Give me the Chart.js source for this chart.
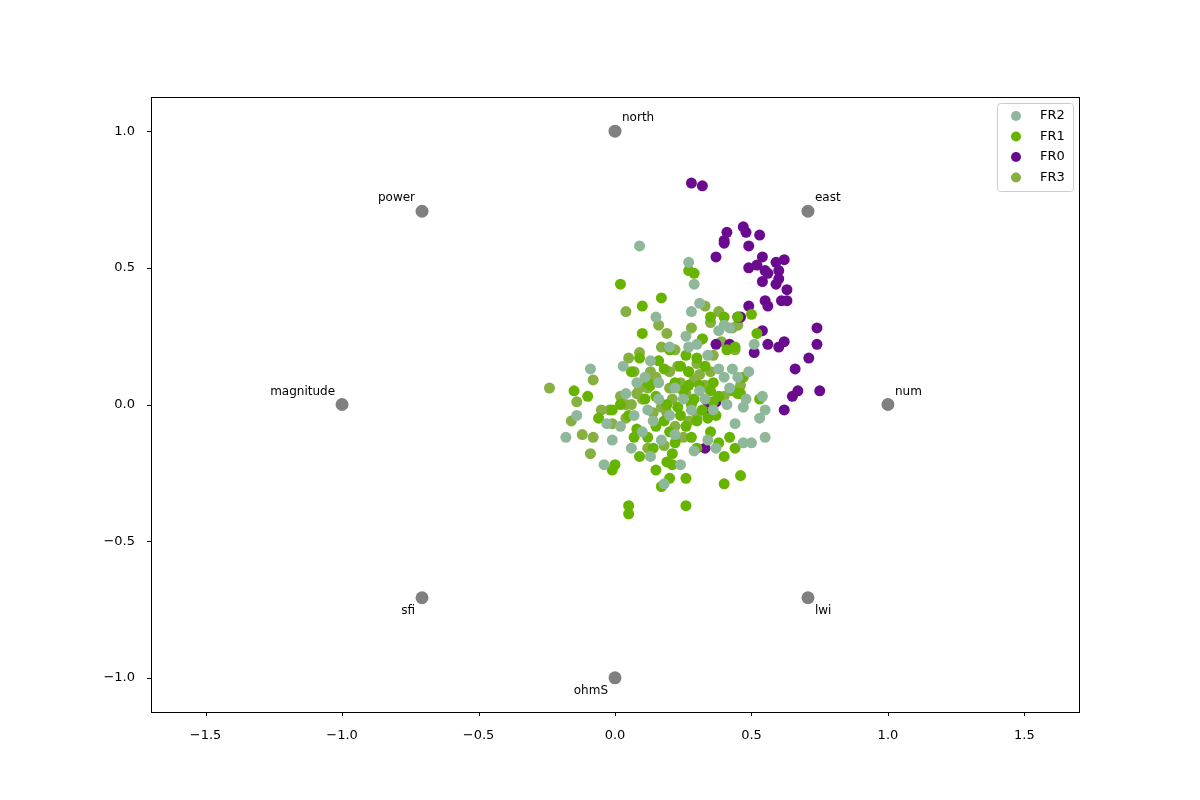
<!DOCTYPE html>
<html>
<head>
<meta charset="utf-8">
<script src="https://cdn.jsdelivr.net/npm/chart.js@4"></script>
<style>
  html, body { margin: 0; padding: 0; background: #fff; }
  #wrap { width: 1200px; height: 800px; }
</style>
</head>
<body>
<div id="wrap"><canvas id="c"></canvas></div>
<script>
const seriesNames = ['FR2', 'FR1', 'FR0', 'FR3'];
const seriesColors = ['#8fb89b', '#66b400', '#6a0a8e', '#86b040'];

const anchorNames = ['num', 'east', 'north', 'power', 'magnitude', 'sfi', 'ohmS', 'lwi'];
const anchorX = [1.0, 0.707, 0.0, -0.707, -1.0, -0.707, 0.0, 0.707];
const anchorY = [0.0, 0.707, 1.0, 0.707, 0.0, -0.707, -1.0, -0.707];

const xTicks = [-1.5, -1, -0.5, 0, 0.5, 1, 1.5];
const yTicks = [-1, -0.5, 0, 0.5, 1];

const fr2 = [[0.09,0.58],[0.27,0.52],[0.28,0.34],[0.29,0.44],[0.31,0.37],[0.15,0.32],[0.40,0.29],[0.38,0.27],[0.27,0.21],[0.30,0.22],[0.20,0.21],[0.13,0.16],[0.03,0.14],[-0.09,0.13],[-0.14,-0.04],[-0.18,-0.12],[-0.04,-0.22],[-0.01,-0.13],[0.02,-0.08],[0.07,-0.04],[0.12,-0.02],[0.16,0.02],[0.22,0.06],[0.24,-0.22],[0.18,-0.29],[0.29,-0.17],[0.34,-0.13],[0.37,-0.16],[0.44,-0.07],[0.47,-0.14],[0.50,-0.14],[0.55,-0.12],[0.53,-0.05],[0.55,-0.02],[0.54,0.03],[0.49,0.12],[0.47,-0.01],[0.42,0.06],[0.43,0.13],[0.40,0.10],[0.38,0.13],[0.36,-0.02],[0.31,0.05],[0.25,0.02],[0.20,-0.04],[0.14,-0.06],[0.10,-0.10],[0.08,0.08],[0.04,0.04],[-0.03,-0.07],[0.11,0.10],[0.16,0.08],[0.28,-0.02],[0.33,0.02],[0.45,0.10],[0.48,0.02],[0.41,0.00],[0.17,-0.13],[0.22,-0.11],[0.13,-0.19],[0.26,0.25],[0.42,0.28],[0.51,0.22],[0.06,-0.16],[0.34,0.18]];

const fr1 = [[0.02,0.44],[0.10,0.36],[0.17,0.39],[0.27,0.49],[0.29,0.48],[0.35,0.32],[0.40,0.32],[0.10,0.26],[0.20,0.20],[0.26,0.18],[0.30,0.17],[0.32,0.24],[0.45,0.32],[0.50,0.33],[0.52,0.26],[0.44,0.21],[0.09,0.17],[0.06,0.12],[0.13,0.07],[0.15,0.03],[0.18,0.13],[0.22,0.08],[0.25,0.05],[0.27,0.12],[0.29,0.02],[0.31,0.07],[0.35,0.05],[0.38,0.03],[0.43,0.05],[0.46,0.04],[0.47,0.10],[0.53,0.02],[-0.15,0.05],[-0.10,0.03],[-0.06,-0.05],[-0.01,-0.02],[0.02,0.00],[0.05,-0.04],[0.08,-0.09],[0.12,-0.12],[0.15,-0.08],[0.18,-0.06],[0.20,-0.10],[0.22,-0.14],[0.24,-0.04],[0.26,-0.08],[0.28,-0.12],[0.30,-0.06],[0.32,-0.02],[0.35,-0.10],[0.38,-0.14],[0.42,-0.12],[0.44,-0.16],[0.40,-0.19],[0.46,-0.26],[0.40,-0.29],[0.26,-0.27],[0.15,-0.24],[0.17,-0.30],[0.20,-0.27],[0.19,-0.21],[0.09,-0.19],[0.00,-0.22],[-0.01,-0.24],[0.05,-0.37],[0.05,-0.40],[0.26,-0.37],[0.21,-0.18],[0.07,-0.12],[0.12,0.08],[0.16,0.16],[0.24,0.14],[0.33,0.14],[0.36,0.08],[0.41,0.20],[0.45,0.04],[0.23,-0.01],[0.19,0.00],[0.28,0.00],[0.34,-0.05],[0.30,-0.16],[0.37,-0.04],[0.14,-0.16],[0.21,-0.22],[0.27,0.07],[0.11,0.02],[0.36,0.01]];

const fr0 = [[0.28,0.81],[0.32,0.80],[0.41,0.63],[0.47,0.65],[0.48,0.63],[0.53,0.62],[0.40,0.60],[0.40,0.59],[0.49,0.58],[0.37,0.54],[0.54,0.54],[0.62,0.53],[0.49,0.50],[0.52,0.51],[0.55,0.49],[0.56,0.48],[0.59,0.52],[0.60,0.49],[0.54,0.45],[0.60,0.46],[0.59,0.44],[0.63,0.42],[0.55,0.38],[0.56,0.36],[0.61,0.38],[0.63,0.38],[0.46,0.32],[0.49,0.36],[0.45,0.32],[0.54,0.27],[0.74,0.28],[0.74,0.22],[0.62,0.23],[0.56,0.22],[0.60,0.21],[0.51,0.19],[0.71,0.17],[0.66,0.13],[0.67,0.05],[0.65,0.03],[0.75,0.05],[0.62,-0.02],[0.34,0.01],[0.37,0.01],[0.34,-0.03],[0.33,-0.16],[0.37,0.22],[0.42,0.22]];

const fr3 = [[-0.24,0.06],[0.04,0.34],[0.09,0.19],[0.05,0.17],[0.16,0.29],[0.19,0.26],[0.17,0.21],[0.22,0.20],[0.28,0.28],[0.32,0.24],[0.33,0.36],[0.38,0.34],[0.43,0.28],[0.45,0.29],[0.44,0.20],[0.39,0.23],[0.36,0.18],[0.30,0.15],[0.27,0.12],[0.23,0.14],[0.20,0.12],[0.15,0.10],[0.12,0.06],[0.08,0.04],[0.04,0.00],[-0.02,-0.02],[-0.08,0.09],[-0.14,0.01],[-0.16,-0.06],[-0.12,-0.11],[-0.08,-0.12],[-0.09,-0.18],[-0.05,-0.02],[-0.01,-0.07],[0.02,0.03],[0.06,0.00],[0.10,0.02],[0.09,0.06],[0.14,-0.03],[0.17,-0.01],[0.21,0.02],[0.24,0.08],[0.26,0.04],[0.29,0.09],[0.31,0.11],[0.33,0.07],[0.35,0.12],[0.30,-0.04],[0.22,-0.08],[0.18,-0.15],[0.12,-0.16],[0.04,-0.05],[0.25,-0.12],[0.46,0.07],[0.40,0.03],[0.20,0.06],[0.13,0.12],[0.07,0.12],[0.35,0.30],[0.19,-0.03],[0.27,-0.06]];

const seriesPoints = [fr2, fr1, fr0, fr3];

const fmt = v => (v < 0 ? '\u2212' : '') + Math.abs(v).toFixed(1);

// frame, tick marks, anchor labels and the legend box
const overlay = {
  id: 'overlay',
  afterDatasetsDraw(chart) {
    const { ctx, chartArea: a, scales: { x, y } } = chart;
    ctx.save();
    ctx.strokeStyle = '#000';
    ctx.lineWidth = 1;
    ctx.strokeRect(Math.round(a.left) + 0.5, Math.round(a.top) + 0.5,
      Math.round(a.right - a.left), Math.round(a.bottom - a.top));
    ctx.beginPath();
    xTicks.forEach(v => {
      const px = Math.round(x.getPixelForValue(v)) + 0.5;
      ctx.moveTo(px, a.bottom); ctx.lineTo(px, a.bottom + 4);
    });
    yTicks.forEach(v => {
      const py = Math.round(y.getPixelForValue(v)) + 0.5;
      ctx.moveTo(a.left, py); ctx.lineTo(a.left - 4, py);
    });
    ctx.stroke();

    ctx.font = '12px "DejaVu Sans"';
    ctx.fillStyle = '#000';
    anchorNames.forEach((name, i) => {
      const px = x.getPixelForValue(anchorX[i]);
      const py = y.getPixelForValue(anchorY[i]);
      const right = anchorX[i] >= 0 && !(anchorX[i] === 0 && anchorY[i] < 0);
      const up = anchorY[i] >= 0;
      ctx.textAlign = right ? 'left' : 'right';
      ctx.textBaseline = up ? 'bottom' : 'top';
      ctx.fillText(name, px + (right ? 7 : -7), py + (up ? -7 : 7));
    });

    const lx = 997, ly = 103, lw = 76, lh = 88;
    ctx.fillStyle = 'rgba(255,255,255,0.8)';
    ctx.strokeStyle = '#cccccc';
    ctx.beginPath();
    ctx.roundRect(lx + 0.5, ly + 0.5, lw, lh, 3);
    ctx.fill();
    ctx.stroke();
    ctx.font = '13px "DejaVu Sans"';
    ctx.textAlign = 'left';
    ctx.textBaseline = 'middle';
    seriesNames.forEach((name, i) => {
      const cy = ly + 13 + i * 20.5;
      ctx.fillStyle = seriesColors[i];
      ctx.beginPath();
      ctx.arc(lx + 19, cy, 5, 0, Math.PI * 2);
      ctx.fill();
      ctx.fillStyle = '#000';
      ctx.fillText(name, lx + 43, cy);
    });
    ctx.restore();
  }
};

const datasets = seriesNames.map((name, i) => ({
  label: name,
  data: seriesPoints[i].map(p => ({ x: p[0], y: p[1] })),
  backgroundColor: seriesColors[i],
  borderWidth: 0,
  pointRadius: 5.5
}));
datasets.unshift({
  label: 'anchors',
  data: anchorX.map((v, i) => ({ x: v, y: anchorY[i] })),
  backgroundColor: '#808080',
  borderWidth: 0,
  pointRadius: 6.5
});

new Chart(document.getElementById('c'), {
  type: 'scatter',
  data: { datasets },
  plugins: [overlay],
  options: {
    responsive: true,
    maintainAspectRatio: false,
    animation: false,
    layout: { padding: { top: 97, right: 121, left: 0, bottom: 0 } },
    plugins: { legend: { display: false }, tooltip: { enabled: false } },
    scales: {
      x: {
        min: -1.7, max: 1.7,
        afterBuildTicks: ax => { ax.ticks = xTicks.map(v => ({ value: v })); },
        afterFit: ax => { ax.height = 88; },
        grid: { display: false },
        border: { display: false },
        ticks: { color: '#000', padding: 8, font: { family: 'DejaVu Sans', size: 13 }, callback: v => fmt(v) }
      },
      y: {
        min: -1.125, max: 1.125,
        afterBuildTicks: ax => { ax.ticks = yTicks.map(v => ({ value: v })); },
        afterFit: ax => { ax.width = 151; },
        grid: { display: false },
        border: { display: false },
        ticks: { color: '#000', padding: 8, font: { family: 'DejaVu Sans', size: 13 }, callback: v => fmt(v) }
      }
    }
  }
});
</script>
</body>
</html>
